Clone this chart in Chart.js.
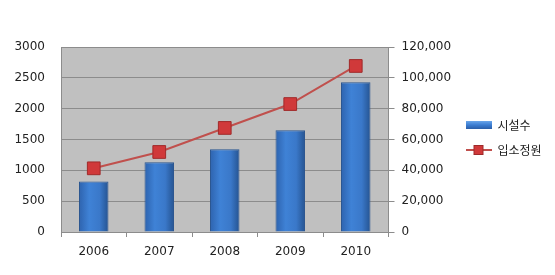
<!DOCTYPE html>
<html>
<head>
<meta charset="utf-8">
<script src="https://cdn.jsdelivr.net/npm/chart.js@4"></script>
<style>
  html, body { margin: 0; padding: 0; background: #fff; }
  #wrap { width: 555px; height: 275px; }
</style>
</head>
<body>
<div id="wrap"><canvas id="chart"></canvas></div>
<script>
const years = ["2006", "2007", "2008", "2009", "2010"];
const facilities = [820, 1130, 1340, 1650, 2430];        // 시설수
const capacity = [41300, 51900, 67500, 83000, 107700];   // 입소정원
const leftTicks = [0, 500, 1000, 1500, 2000, 2500, 3000];
const rightTicks = [0, 20000, 40000, 60000, 80000, 100000, 120000];

// small legend swatches
function swatchBar() {
  const c = document.createElement('canvas');
  c.width = 26; c.height = 8;
  const g = c.getContext('2d');
  const gr = g.createLinearGradient(0, 0, 0, 8);
  gr.addColorStop(0, '#6aa6ea');
  gr.addColorStop(0.5, '#3b7dd2');
  gr.addColorStop(1, '#2a5ea8');
  g.fillStyle = gr;
  g.fillRect(0, 0, 26, 8);
  return c;
}
function swatchLine() {
  const c = document.createElement('canvas');
  c.width = 26; c.height = 12;
  const g = c.getContext('2d');
  g.strokeStyle = '#c0504d';
  g.lineWidth = 2;
  g.beginPath(); g.moveTo(0, 6); g.lineTo(26, 6); g.stroke();
  g.fillStyle = '#d0393a';
  g.fillRect(8, 1, 10, 10);
  g.strokeStyle = '#9e2a2a';
  g.lineWidth = 1;
  g.strokeRect(8.5, 1.5, 9, 9);
  return c;
}

const plotBg = {
  id: 'plotBg',
  afterLayout(chart) {
    // centre the legend on the whole canvas height, like the original
    const lg = chart.legend;
    if (lg) {
      lg.top = 0;
      lg.bottom = chart.height;
      lg.height = chart.height;
      lg.adjustHitBoxes();
    }
  },
  beforeDraw(chart) {
    const a = chart.chartArea;
    const ctx = chart.ctx;
    ctx.save();
    ctx.fillStyle = '#c0c0c0';
    ctx.fillRect(a.left, a.top, a.right - a.left, a.bottom - a.top);
    ctx.restore();
  }
};

function barFill(context) {
  const chart = context.chart;
  if (!chart.chartArea) return '#3b7dd2';
  const x = chart.scales.x.getPixelForValue(context.dataIndex);
  const w = 30;
  const g = chart.ctx.createLinearGradient(x - w / 2, 0, x + w / 2, 0);
  g.addColorStop(0, '#2d62ad');
  g.addColorStop(0.35, '#3f82d6');
  g.addColorStop(0.7, '#3a78c9');
  g.addColorStop(1, '#24528f');
  return g;
}

new Chart(document.getElementById('chart'), {
  data: {
    labels: years,
    datasets: [
      {
        type: 'line',
        label: '입소정원',
        data: capacity,
        yAxisID: 'y1',
        borderColor: '#c0504d',
        borderWidth: 2,
        pointStyle: 'rect',
        pointRadius: 9,
        pointBackgroundColor: '#d0393a',
        pointBorderColor: '#a02a2a',
        pointBorderWidth: 1,
        order: 0
      },
      {
        type: 'bar',
        label: '시설수',
        data: facilities,
        yAxisID: 'y',
        backgroundColor: barFill,
        borderColor: '#2a5590',
        borderWidth: { left: 1, right: 1, top: 1, bottom: 0 },
        categoryPercentage: 1,
        barPercentage: 0.45,
        order: 1
      }
    ]
  },
  options: {
    responsive: true,
    maintainAspectRatio: false,
    animation: false,
    layout: { padding: { top: 47, right: 12, left: 0, bottom: 0 } },
    font: { family: 'DejaVu Sans' },
    plugins: {
      tooltip: { enabled: false },
      legend: {
        position: 'right',
        reverse: true,
        labels: {
          usePointStyle: true,
          pointStyleWidth: 26,
          padding: 13,
          color: '#222',
          font: { family: "'Noto Sans CJK KR'", size: 12 },
          generateLabels(chart) {
            return [
              { text: '입소정원', pointStyle: swatchLine(), datasetIndex: 0, fontColor: '#222', lineWidth: 0 },
              { text: '시설수', pointStyle: swatchBar(), datasetIndex: 1, fontColor: '#222', lineWidth: 0 }
            ];
          }
        }
      }
    },
    scales: {
      x: {
        offset: true,
        grid: { display: true, offset: true, drawOnChartArea: false, drawTicks: true, tickLength: 5, color: '#8c8c8c' },
        border: { color: '#8c8c8c' },
        ticks: { color: '#222', font: { family: 'DejaVu Sans', size: 12 }, padding: 8 },
        afterFit(s) { s.height = 43; }
      },
      y: {
        position: 'left',
        min: 0, max: 3000,
        afterBuildTicks(s) { s.ticks = leftTicks.map(v => ({ value: v })); },
        grid: { color: '#8c8c8c', drawTicks: false },
        border: { color: '#8c8c8c' },
        ticks: { color: '#222', font: { family: 'DejaVu Sans', size: 12 }, padding: 16, callback: v => String(v) },
        afterFit(s) { s.width = 61; }
      },
      y1: {
        position: 'right',
        min: 0, max: 120000,
        afterBuildTicks(s) { s.ticks = rightTicks.map(v => ({ value: v })); },
        grid: { drawOnChartArea: false, tickLength: 6, color: '#8c8c8c' },
        border: { color: '#8c8c8c' },
        ticks: {
          color: '#222',
          font: { family: 'DejaVu Sans', size: 12 },
          padding: 7,
          callback: v => v.toLocaleString('en-US')
        },
        afterFit(s) { s.width = 64; }
      }
    }
  },
  plugins: [plotBg]
});
</script>
</body>
</html>
